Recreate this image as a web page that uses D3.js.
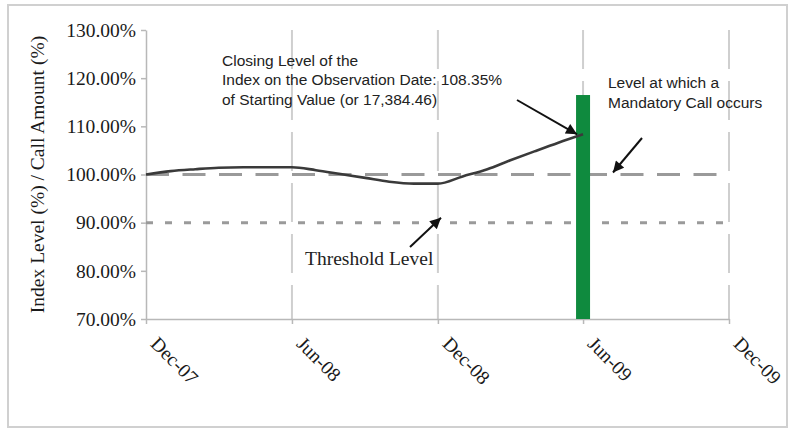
<!DOCTYPE html>
<html>
<head>
<meta charset="utf-8">
<script src="https://cdn.jsdelivr.net/npm/d3@7"></script>
<style>
  body { margin: 0; background: #fff; }
  svg { display: block; }
</style>
</head>
<body>
<svg id="chart" width="788" height="430"></svg>
<script>
// monthly index level, Dec-07 .. Jun-09 (fraction of starting value)
var months = ["2007-12", "2008-01", "2008-02", "2008-03", "2008-04", "2008-05", "2008-06",
              "2008-07", "2008-08", "2008-09", "2008-10", "2008-11", "2008-12",
              "2009-01", "2009-02", "2009-03", "2009-04", "2009-05", "2009-06"];
var indexLevel = [1.000, 1.007, 1.011, 1.014, 1.015, 1.015, 1.015,
                  1.009, 1.001, 0.993, 0.985, 0.981, 0.981,
                  0.996, 1.011, 1.029, 1.048, 1.066, 1.0835];
var callLevel = 1.00;
var thresholdLevel = 0.90;
var callMonth = "2009-06";
var callAmount = 1.165;
var xTicks = ["2007-12", "2008-06", "2008-12", "2009-06", "2009-12"];
var yTicks = [0.7, 0.8, 0.9, 1.0, 1.1, 1.2, 1.3];

var parse = d3.timeParse("%Y-%m");
var svg = d3.select("#chart");
var serif = "'Liberation Serif', 'Times New Roman', serif";
var sans = "'Liberation Sans', Arial, sans-serif";

var x = d3.scaleTime()
    .domain([parse(xTicks[0]), parse(xTicks[xTicks.length - 1])])
    .range([146, 729]);
var y = d3.scaleLinear().domain([0.7, 1.3]).range([319, 30]);

// outer frame
svg.append("rect")
    .attr("x", 8).attr("y", 5)
    .attr("width", 779).attr("height", 422)
    .attr("fill", "none").attr("stroke", "#d0d0d0").attr("stroke-width", 2);

// vertical dashed gridlines
svg.append("g").selectAll("line")
    .data(xTicks.slice(1))
    .enter().append("line")
    .attr("x1", function(d){ return x(parse(d)); })
    .attr("x2", function(d){ return x(parse(d)); })
    .attr("y1", y(1.3)).attr("y2", y(0.7))
    .attr("stroke", "#cfcfcf").attr("stroke-width", 2)
    .attr("stroke-dasharray", "39,12");

// axes
var yAxis = d3.axisLeft(y).tickValues(yTicks).tickSize(5).tickSizeOuter(0)
    .tickFormat(d3.format(".2%"));
var gy = svg.append("g").attr("transform", "translate(" + x.range()[0] + ",0)").call(yAxis);
gy.selectAll("path, line").attr("stroke", "#b8b8b8").attr("stroke-width", 1.5);
gy.selectAll("text")
    .attr("x", -10)
    .attr("font-family", serif)
    .attr("font-size", 19.5).attr("fill", "#1a1a1a");

var xAxis = d3.axisBottom(x).tickValues(xTicks.map(parse)).tickSize(5).tickSizeOuter(0)
    .tickFormat(d3.timeFormat("%b-%y"));
var gx = svg.append("g").attr("transform", "translate(0," + y.range()[0] + ")").call(xAxis);
gx.selectAll("path, line").attr("stroke", "#b8b8b8").attr("stroke-width", 1.5);
gx.selectAll("text")
    .attr("y", 0).attr("dy", 0)
    .attr("transform", "translate(3,26) rotate(45)")
    .style("text-anchor", "start")
    .attr("font-family", serif)
    .attr("font-size", 19.5).attr("fill", "#1a1a1a");

svg.append("text")
    .attr("transform", "translate(44," + y(1.0) + ") rotate(-90)")
    .attr("text-anchor", "middle")
    .attr("font-family", serif)
    .attr("font-size", 19.5).attr("fill", "#1a1a1a")
    .text("Index Level (%) / Call Amount (%)");

// threshold level (dotted)
svg.append("line")
    .attr("x1", x.range()[0]).attr("x2", x.range()[1])
    .attr("y1", y(thresholdLevel)).attr("y2", y(thresholdLevel))
    .attr("stroke", "#9a9a9a").attr("stroke-width", 3)
    .attr("stroke-dasharray", "7,12");

// mandatory call level (dashed)
svg.append("line")
    .attr("x1", x.range()[0]).attr("x2", x.range()[1])
    .attr("y1", y(callLevel)).attr("y2", y(callLevel))
    .attr("stroke", "#9a9a9a").attr("stroke-width", 3)
    .attr("stroke-dasharray", "23,13.5");

// call amount bar
var cx = x(parse(callMonth));
svg.append("rect")
    .attr("x", cx - 7).attr("width", 14)
    .attr("y", y(callAmount)).attr("height", y(0.7) - y(callAmount))
    .attr("fill", "#0f8a3e");

// index line
var line = d3.line()
    .x(function(d, i){ return x(parse(months[i])); })
    .y(function(d){ return y(d); })
    .curve(d3.curveMonotoneX);
svg.append("path")
    .datum(indexLevel)
    .attr("d", line)
    .attr("fill", "none").attr("stroke", "#3a3a3a").attr("stroke-width", 2.6);

// arrows
svg.append("defs").append("marker")
    .attr("id", "head")
    .attr("viewBox", "0 0 10 10")
    .attr("refX", 10).attr("refY", 5)
    .attr("markerUnits", "userSpaceOnUse")
    .attr("markerWidth", 13).attr("markerHeight", 11)
    .attr("orient", "auto")
    .append("path").attr("d", "M0,0L10,5L0,10z").attr("fill", "#111");

var lastX = x(parse(months[months.length - 1])), lastY = y(indexLevel[indexLevel.length - 1]);
var arrows = [
    [517, 100, lastX - 6, lastY],
    [642, 138, 613, y(callLevel) - 2],
    [410, 247, 441, y(thresholdLevel) - 5]
];
svg.append("g").selectAll("line")
    .data(arrows)
    .enter().append("line")
    .attr("x1", function(d){ return d[0]; })
    .attr("y1", function(d){ return d[1]; })
    .attr("x2", function(d){ return d[2]; })
    .attr("y2", function(d){ return d[3]; })
    .attr("stroke", "#111").attr("stroke-width", 2)
    .attr("marker-end", "url(#head)");

// annotations
function note(lines, x0, y0, lh, family, size) {
    var t = svg.append("text")
        .attr("font-family", family).attr("font-size", size).attr("fill", "#222");
    lines.forEach(function(s, i){
        t.append("tspan").attr("x", x0).attr("y", y0 + i * lh).text(s);
    });
}
note(["Closing Level of the",
      "Index on the Observation Date: 108.35%",
      "of Starting Value (or 17,384.46)"], 222, 66, 19.3, sans, 15.5);
note(["Level at which a", "Mandatory Call occurs"], 608, 88, 20, sans, 15.5);
note(["Threshold Level"], 305, 265, 0, serif, 19.5);
</script>
</body>
</html>
